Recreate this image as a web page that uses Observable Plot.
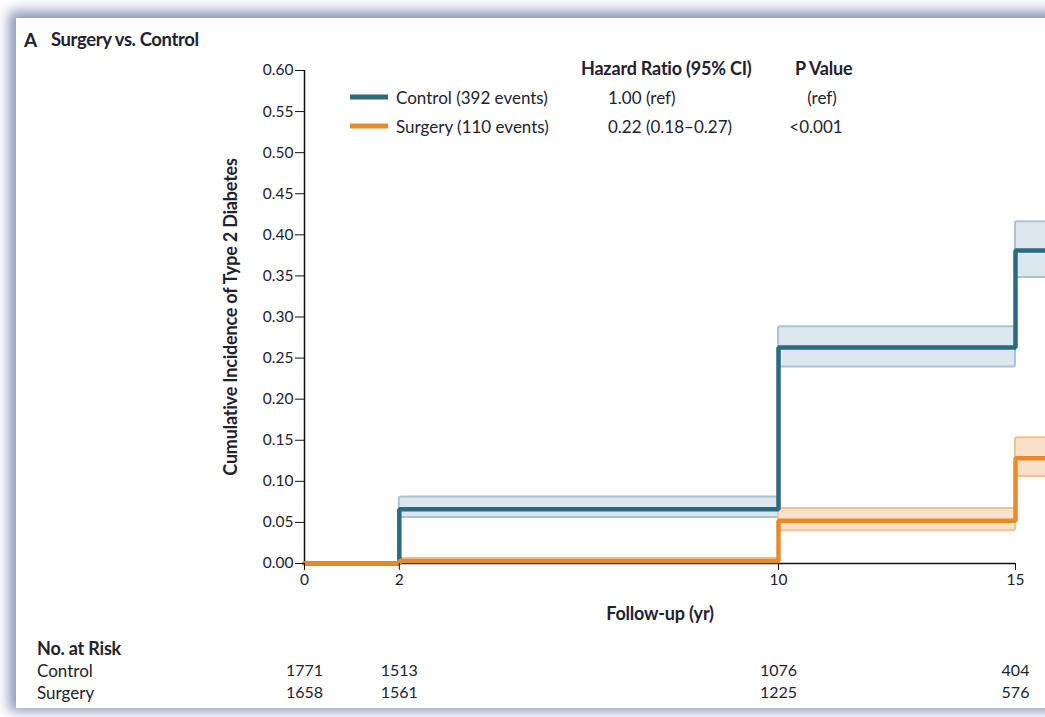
<!DOCTYPE html>
<html>
<head>
<meta charset="utf-8">
<script src="https://cdn.jsdelivr.net/npm/d3@7"></script>
<script src="https://cdn.jsdelivr.net/npm/@observablehq/plot@0.6"></script>
<style>
  html, body { margin: 0; padding: 0; background: #ffffff; width: 1045px; height: 717px; overflow: hidden; font-family: Lato, "Open Sans", sans-serif; color: #22222e; }
  #panel { position: absolute; left: 16px; top: 18px; width: 1100px; height: 690px; background: #fff; box-shadow: -2px -2px 12px 5px rgba(120,132,170,0.85); }
  .abs { position: absolute; white-space: nowrap; line-height: 1; }
  .t { font-size: 17px; transform: translateY(-50%); }
  .b { font-weight: 700; font-size: 18px; letter-spacing: -0.2px; }
  .sw { position: absolute; height: 5px; width: 38px; transform: translateY(-50%); }
  #main { position: absolute; left: 0; top: 50px; }
  #risk { position: absolute; left: 0; top: 659px; }
</style>
</head>
<body>
<div id="panel"></div>
<div id="main"></div>
<div id="risk"></div>

<div class="abs b" style="left:24px; top:39px; font-size:19px; transform:translateY(-50%);">A</div>
<div class="abs b" style="left:51px; top:39px; font-size:18.5px; transform:translateY(-50%); letter-spacing:-0.4px;">Surgery vs. Control</div>

<div class="abs t b" style="left:581px; top:68px;">Hazard Ratio (95% CI)</div>
<div class="abs t b" style="left:795px; top:68px;">P Value</div>
<div class="sw" style="left:350px; top:97px; background:#2c6a80;"></div>
<div class="sw" style="left:350px; top:126px; background:#e88a2a;"></div>
<div class="abs t" id="lg0" style="left:396px; top:97px;"></div>
<div class="abs t" id="lg1" style="left:396px; top:126px;"></div>
<div class="abs t" id="hr0" style="left:608px; top:97px;"></div>
<div class="abs t" id="hr1" style="left:608px; top:126px;"></div>
<div class="abs t" id="pv0" style="left:822px; top:97px; transform:translate(-50%,-50%);"></div>
<div class="abs t" id="pv1" style="left:816px; top:126px; transform:translate(-50%,-50%);"></div>

<div class="abs t b" style="left:37px; top:648px;">No. at Risk</div>
<div class="abs t" id="rl0" style="left:37px; top:670px;"></div>
<div class="abs t" id="rl1" style="left:37px; top:692px;"></div>

<script>
// ---- data ----
const groups = ["Control", "Surgery"];
const colors = ["#2c6a80", "#e88a2a"];
const bandFills = ["#dbe6ee", "#f9e1c9"];
const bandStrokes = ["#abc4d3", "#f2c291"];
const events = [392, 110];
const hazardRatios = ["1.00 (ref)", "0.22 (0.18\u20130.27)"];
const pValues = ["(ref)", "<0.001"];

const times = [0, 2, 10, 15, 15.7];
const controlCum = [0, 0.066, 0.263, 0.381, 0.381];
const controlLo  = [0, 0.056, 0.239, 0.348, 0.348];
const controlHi  = [0, 0.081, 0.288, 0.416, 0.416];
const surgeryCum = [0, 0.003, 0.052, 0.128, 0.128];
const surgeryLo  = [0, 0.001, 0.040, 0.106, 0.106];
const surgeryHi  = [0, 0.006, 0.067, 0.153, 0.153];

const xTicks = [0, 2, 10, 15];
const yTicks = [0, 0.05, 0.10, 0.15, 0.20, 0.25, 0.30, 0.35, 0.40, 0.45, 0.50, 0.55, 0.60];

const riskTimes = [0, 2, 10, 15];
const controlRisk = [1771, 1513, 1076, 404];
const surgeryRisk = [1658, 1561, 1225, 576];

// ---- build tables ----
const cum = [controlCum, surgeryCum], lo = [controlLo, surgeryLo], hi = [controlHi, surgeryHi];
const lines = groups.map((g, k) => times.map((t, i) => ({group: g, t, v: cum[k][i]})));
const bands = [];
groups.forEach((g, k) => {
  for (let i = 0; i < times.length - 1; i++) {
    if (hi[k][i] > lo[k][i]) bands.push({group: g, k, x1: times[i], x2: times[i + 1], y1: lo[k][i], y2: hi[k][i]});
  }
});
const risk = [];
[controlRisk, surgeryRisk].forEach((arr, k) => arr.forEach((n, i) => risk.push({group: groups[k], t: riskTimes[i], n})));

// legend text
groups.forEach((g, k) => {
  document.getElementById("lg" + k).textContent = `${g} (${events[k]} events)`;
  document.getElementById("hr" + k).textContent = hazardRatios[k];
  document.getElementById("pv" + k).textContent = pValues[k];
  document.getElementById("rl" + k).textContent = g;
});

const W = 1045;
const xCommon = {domain: [0, 15]};
const font = "Lato, 'Open Sans', sans-serif";

const main = Plot.plot({
  width: W, height: 580,
  marginLeft: 304, marginRight: 30, marginTop: 20, marginBottom: 67,
  style: {fontFamily: font, fontSize: "15.5px", color: "#22222e", overflow: "visible"},
  x: {...xCommon},
  y: {domain: [0, 0.6]},
  marks: [
    Plot.rect(bands, {x1: "x1", x2: "x2", y1: "y1", y2: "y2",
      fill: d => bandFills[d.k], stroke: d => bandStrokes[d.k], strokeWidth: 2, rx: 2}),
    Plot.ruleX([0], {y1: 0, y2: 0.6, stroke: "#111", strokeWidth: 1.5}),
    Plot.ruleY([0], {x1: 0, x2: 15, stroke: "#111", strokeWidth: 1.5}),
    Plot.line(lines[0], {x: "t", y: "v", stroke: colors[0], strokeWidth: 4.5, curve: "step-after", strokeLinejoin: "miter"}),
    Plot.line(lines[1], {x: "t", y: "v", stroke: colors[1], strokeWidth: 4.5, curve: "step-after", strokeLinejoin: "miter"}),
    Plot.axisY({ticks: yTicks, tickFormat: d3.format(".2f"), tickSize: 9, tickPadding: 2, stroke: "#111",
      label: "Cumulative Incidence of Type 2 Diabetes", labelAnchor: "center", labelOffset: 80, labelArrow: "none"}),
    Plot.axisX({ticks: xTicks, tickFormat: d3.format("d"), tickSize: 7, tickPadding: 3, stroke: "#111",
      label: "Follow-up (yr)", labelAnchor: "center", labelOffset: 56, labelArrow: "none"})
  ]
});
main.querySelectorAll('[aria-label$="axis label"]').forEach(n => {
  n.style.fontWeight = "700"; n.style.fontSize = "18px"; n.style.letterSpacing = "-0.2px";
});
document.getElementById("main").appendChild(main);

const riskPlot = Plot.plot({
  width: W, height: 44,
  marginLeft: 304, marginRight: 30, marginTop: 0, marginBottom: 0,
  style: {fontFamily: font, fontSize: "16px", color: "#22222e", overflow: "visible"},
  x: {...xCommon, axis: null},
  y: {type: "band", domain: groups, axis: null, padding: 0},
  marks: [
    Plot.text(risk, {x: "t", y: "group", text: d => String(d.n), textAnchor: "middle"})
  ]
});
document.getElementById("risk").appendChild(riskPlot);
</script>
</body>
</html>
